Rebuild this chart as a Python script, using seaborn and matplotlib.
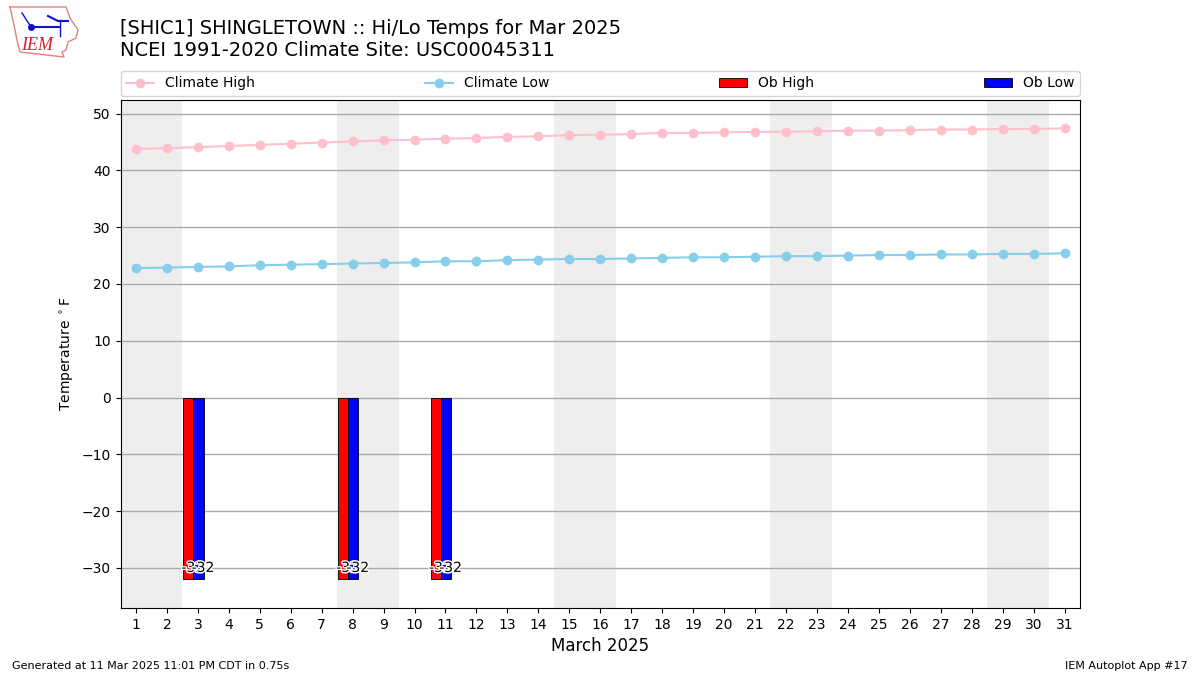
import matplotlib
matplotlib.use('Agg')
import matplotlib.pyplot as plt
import seaborn as sns
import numpy as np
import pandas as pd

days = list(range(1, 32))
climate_high = [43.8, 43.9, 44.1, 44.3, 44.5, 44.7, 44.9, 45.1, 45.3, 45.4, 45.6,
                45.7, 45.9, 46.0, 46.2, 46.3, 46.4, 46.6, 46.6, 46.7, 46.8, 46.8,
                46.9, 47.0, 47.0, 47.1, 47.2, 47.2, 47.3, 47.3, 47.4]
climate_low = [22.8, 22.9, 23.0, 23.1, 23.3, 23.4, 23.5, 23.6, 23.7, 23.8, 24.0,
               24.0, 24.2, 24.3, 24.4, 24.4, 24.5, 24.6, 24.7, 24.7, 24.8, 24.9,
               24.9, 25.0, 25.1, 25.1, 25.2, 25.2, 25.3, 25.3, 25.4]
ob_days = [3, 8, 11]
ob_high = [-32, -32, -32]
ob_low = [-32, -32, -32]
weekend_starts = [1, 8, 15, 22, 29]

df = pd.DataFrame({'day': days, 'high': climate_high, 'low': climate_low})

fig = plt.figure(figsize=(12, 6.75), dpi=100)
ax = fig.add_axes([120.5 / 1200, 1 - 608 / 675, 959.5 / 1200, 508 / 675])

# weekends
for start in weekend_starts:
    ax.axvspan(start - 0.5, start + 1.5, color='#EEEEEE', lw=0, zorder=0)

ax.grid(True, axis='y', color='#AAAAAA', lw=1)
ax.set_axisbelow('line')

sns.lineplot(data=df, x='day', y='high', ax=ax, color='pink', marker='o', mec='pink',
             mew=1, label='Climate High')
sns.lineplot(data=df, x='day', y='low', ax=ax, color='skyblue', marker='o', mec='skyblue',
             mew=1, label='Climate Low')

obx = np.array(ob_days)
ax.bar(obx - 0.31, ob_high, width=0.33, color='red', edgecolor='black', lw=0.6, label='Ob High', zorder=2.5)
ax.bar(obx + 0.02, ob_low, width=0.33, color='blue', edgecolor='black', lw=0.6, label='Ob Low', zorder=2.5)

# value labels sit inside the bar end, white halo like the original
halo = [matplotlib.patheffects.withStroke(linewidth=2, foreground='white')] if False else None
import matplotlib.patheffects as pe
for x, hi, lo in zip(ob_days, ob_high, ob_low):
    for off, val in ((-0.17, hi), (0.16, lo)):
        ax.text(x + off, val + 2, str(val), ha='center', va='center', fontsize=10, zorder=5,
                path_effects=[pe.withStroke(linewidth=2, foreground='white')])

ax.set_xlim(0.5, 31.5)
ax.set_ylim(-37.06, 52.4)
ax.set_xticks(days)
ax.set_xlabel('March 2025', fontsize=12)
ax.set_ylabel(r'Temperature $^\circ$F', fontsize=10)

ax.legend(loc='lower left', bbox_to_anchor=(0, 1.008, 1, 0), mode='expand', ncol=4,
          borderaxespad=0, fontsize=10)

fig.text(120 / 1200, 1 - 29 / 675, '[SHIC1] SHINGLETOWN :: Hi/Lo Temps for Mar 2025', fontsize=14, va='center')
fig.text(120 / 1200, 1 - 51 / 675, 'NCEI 1991-2020 Climate Site: USC00045311', fontsize=14, va='center')
fig.text(12 / 1200, 1 - 666 / 675, 'Generated at 11 Mar 2025 11:01 PM CDT in 0.75s', fontsize=8, va='center')
fig.text(1188 / 1200, 1 - 666 / 675, 'IEM Autoplot App #17', fontsize=8, va='center', ha='right')

# rough IEM logo, state outline + wind barb + text
logo = fig.add_axes([0, 1 - 60 / 675, 80 / 1200, 60 / 675])
logo.set_xlim(0, 80)
logo.set_ylim(60, 0)
logo.axis('off')
outline_x = [10, 66, 70, 78, 76, 68, 66, 62, 64, 20, 17, 14, 10]
outline_y = [7, 7, 18, 30, 38, 42, 50, 52, 57, 52, 40, 25, 7]
logo.plot(outline_x, outline_y, color='#E08080', lw=1)
logo.plot([31, 60], [27, 27], color='#1010D0', lw=1.5)
logo.plot([22, 31], [13, 27], color='#1010D0', lw=1)
logo.plot([60, 60], [20, 36], color='#1010D0', lw=1)
logo.plot([48, 58, 68], [16, 21, 21], color='#1010D0', lw=1.5)
logo.plot([31], [27], 'o', color='#1010D0', ms=4)
logo.text(21, 46, 'IEM', color='#D02030', fontsize=13, family='Liberation Serif', style='italic', va='center')

fig.savefig('out.png', dpi=100)
